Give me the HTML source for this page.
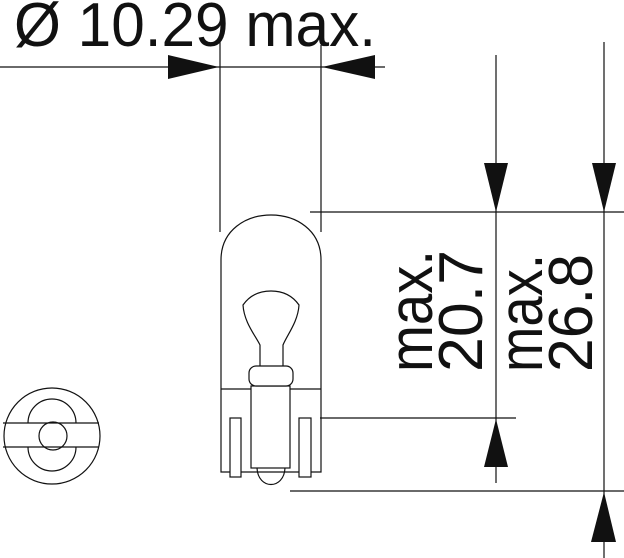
<!DOCTYPE html>
<html><head><meta charset="utf-8"><style>
html,body{margin:0;padding:0;background:#fff;}
svg{display:block;}
text{font-family:"Liberation Sans",sans-serif;fill:#111;}
</style></head><body>
<svg width="624" height="558" viewBox="0 0 624 558" xmlns="http://www.w3.org/2000/svg">
<g stroke="#111" stroke-width="1.2" fill="none">
<!-- top dimension -->
<line x1="0" y1="67" x2="385" y2="67"/>
<line x1="220" y1="42" x2="220" y2="232"/>
<line x1="321" y1="45" x2="321" y2="232"/>
<!-- right dimension lines -->
<line x1="310" y1="212" x2="624" y2="212"/>
<line x1="320" y1="418" x2="516" y2="418"/>
<line x1="290" y1="491" x2="624" y2="491"/>
<line x1="496" y1="55" x2="496" y2="483"/>
<line x1="604" y1="42" x2="604" y2="558"/>
<!-- bulb -->
<path d="M221 472 V260 C221 200 321 200 321 260 V472 Z"/>
<line x1="221" y1="389" x2="321" y2="389"/>
<rect x="251" y="386" width="39" height="82" fill="#fff"/>
<rect x="230" y="418" width="11" height="59" fill="#fff"/>
<rect x="299" y="418" width="12" height="59" fill="#fff"/>
<path d="M257 468 C258 490 284 490 285 468"/>
<rect x="249" y="366" width="44" height="20" rx="7" fill="#fff"/>
<path d="M260 366 V345 C255 335 244 322 243 305 C250 295 260 291 271 291 C282 291 292 295 299 305 C298 322 287 335 283 345 V366"/>
<!-- left view -->
<circle cx="52" cy="436" r="48"/>
<path d="M28 423 A24 24 0 0 1 76 423 M28 447 A24 24 0 0 0 76 447"/>
<line x1="3" y1="423" x2="99" y2="423"/>
<line x1="3" y1="447" x2="99" y2="447"/>
<circle cx="53" cy="436" r="14"/>
</g>
<g fill="#111">
<polygon points="168,55 219,67 168,79"/>
<polygon points="322,67 375,55 375,79"/>
<polygon points="484,163 508,163 496,212"/>
<polygon points="484,467 508,467 496,419"/>
<polygon points="592,163 616,163 604,212"/>
<polygon points="591,542 616,542 604,492"/>
</g>
<text x="14" y="46" font-size="62" textLength="362" lengthAdjust="spacingAndGlyphs">Ø 10.29 max.</text>
<text transform="translate(432,372) rotate(-90)" font-size="62" textLength="122" lengthAdjust="spacingAndGlyphs">max.</text>
<text transform="translate(482,372) rotate(-90)" font-size="62" textLength="122" lengthAdjust="spacingAndGlyphs">20.7</text>
<text transform="translate(542,372) rotate(-90)" font-size="62" textLength="118" lengthAdjust="spacingAndGlyphs">max.</text>
<text transform="translate(592,372) rotate(-90)" font-size="62" textLength="118" lengthAdjust="spacingAndGlyphs">26.8</text>
</svg>
</body></html>
